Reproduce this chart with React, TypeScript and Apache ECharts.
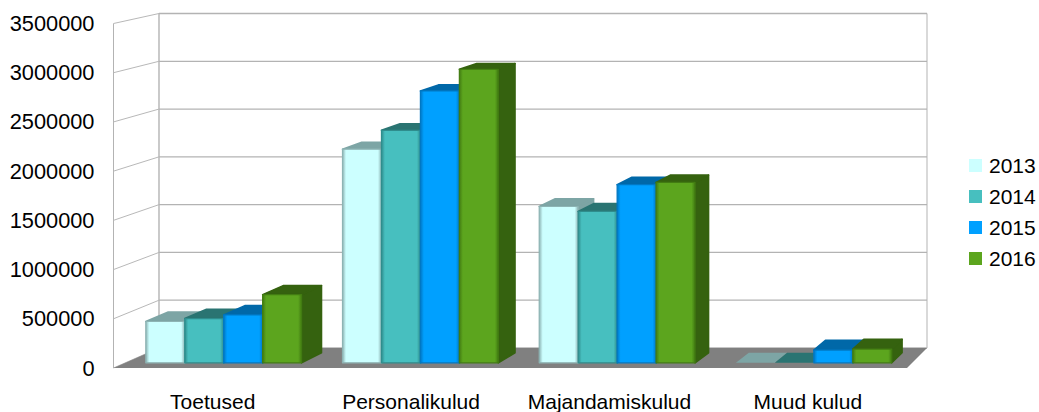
import React, { useEffect, useRef } from "react";
import * as echarts from "echarts";

const categories = ["Toetused", "Personalikulud", "Majandamiskulud", "Muud kulud"];
const years = ["2013", "2014", "2015", "2016"];
const values2013 = [423000, 2187000, 1600000, 0];
const values2014 = [453000, 2380000, 1550000, 0];
const values2015 = [490000, 2783000, 1823000, 130000];
const values2016 = [698000, 3005000, 1846000, 140000];
const allValues = [values2013, values2014, values2015, values2016];
const wallTicks = [0, 500000, 1000000, 1500000, 2000000, 2500000, 3000000, 3500000];

const frontColors = ["#ccffff", "#47bfbf", "#00a0ff", "#5ca51e"];
const edgeColors = ["#8db4b4", "#2f8d8d", "#0078c4", "#427c12"];
const topColors = ["#7da5a5", "#2a7472", "#0068a8", "#35620f"];
const sideColors = ["#7da5a5", "#2a7472", "#0068a8", "#35620f"];

const FONT = "'Liberation Sans', Arial, sans-serif";

function B(cs: any) {
  return cs.y + cs.height;
}

function makeProjector(cs: any) {
  const L = cs.x;
  const W = cs.width;
  const H = cs.height;
  return (u: number, v: number, d: number): number[] => {
    const dxFull = 45.5 - ((u - L) / W) * 25.5;
    const x = u + d * dxFull;
    const y = B(cs) - 20 * d - (B(cs) - v) * (1 - (10 / H) * d);
    return [x, y];
  };
}

function wallItem(params: any, api: any) {
  const cs = params.coordSys;
  const proj = makeProjector(cs);
  const L = cs.x;
  const R = cs.x + cs.width;
  const v = api.coord([0, api.value(0)])[1];
  const a = proj(L, v, 0);
  const b = proj(L, v, 1);
  const c = proj(R, v, 1);
  const children: any[] = [
    { type: "polyline", shape: { points: [a, b] }, style: { stroke: "#b8b8b8", lineWidth: 1, fill: "none" }, silent: true },
    { type: "polyline", shape: { points: [b, c] }, style: { stroke: "#b3b3b3", lineWidth: 1.3, fill: "none" }, silent: true },
  ];
  if (params.dataIndex === 0) {
    const tl = proj(L, cs.y, 0);
    const tb = proj(L, cs.y, 1);
    const tr = proj(R, cs.y, 1);
    const br = proj(R, B(cs), 1);
    const bl = proj(L, B(cs), 1);
    const fl = proj(L, B(cs), 0);
    const fr = proj(R, B(cs), 0);
    children.push(
      { type: "line", shape: { x1: tl[0], y1: tl[1], x2: fl[0], y2: fl[1] }, style: { stroke: "#b3b3b3", lineWidth: 1 } },
      { type: "line", shape: { x1: tb[0], y1: tb[1], x2: bl[0], y2: bl[1] }, style: { stroke: "#b3b3b3", lineWidth: 1.4 } },
      { type: "line", shape: { x1: tr[0], y1: tr[1], x2: br[0], y2: br[1] }, style: { stroke: "#b3b3b3", lineWidth: 1 } },
      { type: "polygon", shape: { points: [fl, fr, br, bl] }, style: { fill: "#808080" } }
    );
  }
  return { type: "group", children };
}

const D0 = 0.26;
const D1 = 0.76;

function barRenderer(idx: number) {
  return (params: any, api: any) => {
    const cs = params.coordSys;
    const proj = makeProjector(cs);
    const cat = api.value(0);
    const val = api.value(1);
    const band = api.size([1, 0])[0];
    const bw = band * 0.198;
    const c = api.coord([cat, val]);
    const base = api.coord([cat, 0])[1];
    const u0 = c[0] + (idx - 2) * bw;
    const u1 = u0 + bw;
    const v = c[1];
    const fbl = proj(u0, base, D0);
    const fbr = proj(u1, base, D0);
    const ftl = proj(u0, v, D0);
    const ftr = proj(u1, v, D0);
    const bbr = proj(u1, base, D1);
    const btl = proj(u0, v, D1);
    const btr = proj(u1, v, D1);
    const children: any[] = [];
    const h = Math.abs(fbl[1] - ftl[1]);
    const solid = h > 1.5;
    if (solid) {
      children.push({
        type: "polygon",
        shape: { points: [ftr, btr, bbr, fbr] },
        style: { fill: sideColors[idx], stroke: sideColors[idx], lineWidth: 1.6, lineJoin: "round" },
      });
    }
    children.push({
      type: "polygon",
      shape: { points: [ftl, btl, btr, ftr] },
      style: { fill: topColors[idx], stroke: solid ? topColors[idx] : "none", lineWidth: 1.6, lineJoin: "round" },
    });
    if (solid) {
      children.push({
        type: "polygon",
        shape: { points: [ftl, ftr, fbr, fbl] },
        style: {
          fill: new echarts.graphic.LinearGradient(0, 0, 1, 0, [
            { offset: 0, color: edgeColors[idx] },
            { offset: 0.09, color: frontColors[idx] },
            { offset: 0.91, color: frontColors[idx] },
            { offset: 1, color: edgeColors[idx] },
          ]),
          stroke: edgeColors[idx],
          lineWidth: 1.2,
          lineJoin: "round",
        },
      });
    }
    return { type: "group", children };
  };
}

export default function App() {
  const ref = useRef<HTMLDivElement>(null);
  useEffect(() => {
    const chart = echarts.init(ref.current!, undefined, { renderer: "svg" });
    chart.setOption({
      animation: false,
      backgroundColor: "#ffffff",
      textStyle: { fontFamily: FONT },
      grid: { left: 113.5, right: 132, top: 23.5, bottom: 42.5, containLabel: false },
      legend: {
        data: years,
        orient: "vertical",
        left: 969,
        top: 155,
        icon: "rect",
        itemWidth: 13,
        itemHeight: 13,
        itemGap: 10,
        padding: 0,
        selectedMode: false,
        textStyle: { fontFamily: FONT, fontSize: 21, color: "#000000", padding: [0, 0, 0, 2] },
      },
      xAxis: {
        type: "category",
        data: categories,
        axisLine: { show: false },
        axisTick: { show: false },
        axisLabel: { fontFamily: FONT, fontSize: 21, color: "#000000", margin: 23, interval: 0 },
      },
      yAxis: {
        type: "value",
        min: 0,
        max: 3500000,
        interval: 500000,
        axisLine: { show: false },
        axisTick: { show: false },
        splitLine: { show: false },
        axisLabel: { fontFamily: FONT, fontSize: 21.8, color: "#000000", margin: 19, formatter: (v: number) => String(v) },
      },
      series: [
        {
          type: "custom",
          name: "walls",
          renderItem: wallItem,
          data: wallTicks.map((t) => [t]),
          encode: { y: 0 },
          clip: false,
          silent: true,
          z: 1,
        },
        ...years.map((y, i) => ({
          type: "custom",
          name: y,
          renderItem: barRenderer(i),
          data: allValues[i].map((val, c) => [c, val]),
          encode: { x: 0, y: 1 },
          itemStyle: { color: frontColors[i] },
          clip: false,
          z: 2 + i,
        })),
      ],
    });
    return () => chart.dispose();
  }, []);
  return <div ref={ref} style={{ position: "fixed", left: 0, top: 0, width: 1039, height: 412 }} />;
}
